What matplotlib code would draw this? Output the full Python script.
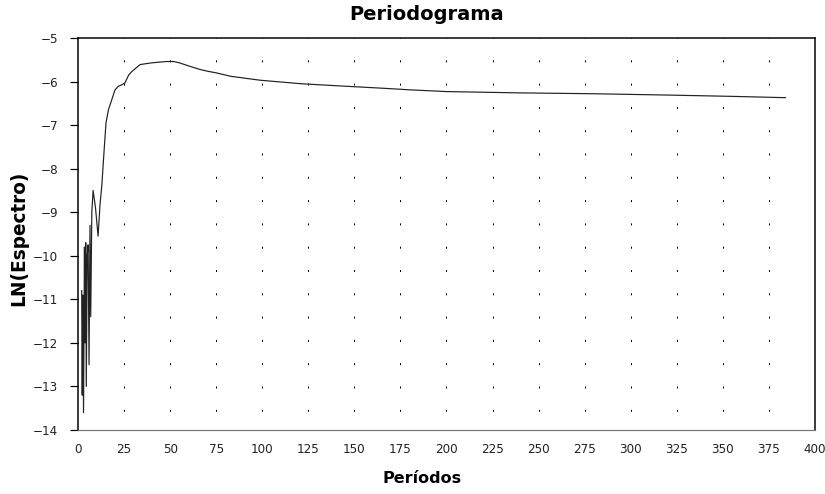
import matplotlib
matplotlib.use("Agg")
import matplotlib.pyplot as plt

# periodogram values (period, ln(spectrum))
periodos = [2.0, 2.3, 2.6, 3.0, 3.5, 3.8, 4.2, 4.5, 5.0, 5.5, 6.0, 6.5, 6.9,
            7.5, 8.2, 9.5, 10.9, 12.0, 12.9, 14.3, 15.2, 16.5, 18.3, 20.1,
            21.9, 23.5, 25.5, 27.5, 29.2, 33.7, 40, 48, 52, 55, 60, 66, 70,
            75, 83, 99, 121, 142, 164, 180, 200, 240, 280, 320, 355, 384]
ln_espectro = [-10.8, -13.2, -10.9, -13.6, -9.8, -12.0, -9.7, -13.0, -10.0,
               -9.75, -12.5, -9.3, -11.4, -9.0, -8.5, -8.9, -9.55, -8.8, -8.4,
               -7.5, -6.95, -6.65, -6.42, -6.19, -6.11, -6.08, -6.03, -5.85,
               -5.77, -5.61, -5.57, -5.54, -5.54, -5.57, -5.64, -5.72, -5.76,
               -5.80, -5.88, -5.97, -6.05, -6.10, -6.15, -6.19, -6.23, -6.26,
               -6.28, -6.31, -6.34, -6.37]

x_ticks = list(range(0, 401, 25))
y_ticks = list(range(-14, -4))

plt.rcParams['font.family'] = ['DejaVu Sans Condensed', 'DejaVu Sans']

W, H = 825, 494
fig = plt.figure(figsize=(W / 72, H / 72), dpi=72)
ax = fig.add_axes([78 / W, 64 / H, 737 / W, 392 / H])

ax.plot(periodos, ln_espectro, color="#222222", linewidth=1.2)

ax.set_xlim(0, 400)
ax.set_ylim(-14, -5)
ax.set_xticks(x_ticks)
ax.set_yticks(y_ticks)
ax.tick_params(axis='x', length=0, pad=13, labelsize=12, labelcolor="#222222")
ax.tick_params(axis='y', length=8, width=1.2, pad=12, labelsize=12,
               labelcolor="#222222")

# sparse dotted vertical grid, dots every ~23 px
ax.grid(axis='x', color="black", linewidth=1, linestyle=(4.6, (2, 21.3)))
ax.grid(axis='y', visible=False)
xt = ax.xaxis.get_major_ticks()
xt[0].gridline.set_visible(False)
xt[-1].gridline.set_visible(False)

for side in ['top', 'left', 'right']:
    ax.spines[side].set_linewidth(1.5)
    ax.spines[side].set_color("black")
ax.spines['bottom'].set_color("#777777")
ax.spines['bottom'].set_linewidth(1.2)

fig.text(427 / W, 1 - 20 / H, "Periodograma", fontsize=19.5, weight='bold',
         family='DejaVu Sans', ha='center', va='baseline')
fig.text(422 / W, 1 - 483 / H, "Períodos", fontsize=16, weight='bold',
         family='DejaVu Sans', ha='center', va='baseline')
fig.text(19 / W, 1 - 238 / H, "LN(Espectro)", fontsize=18.5, weight='bold',
         family='DejaVu Sans', ha='center', va='center', rotation=90)

fig.savefig("out.png", dpi=72)
